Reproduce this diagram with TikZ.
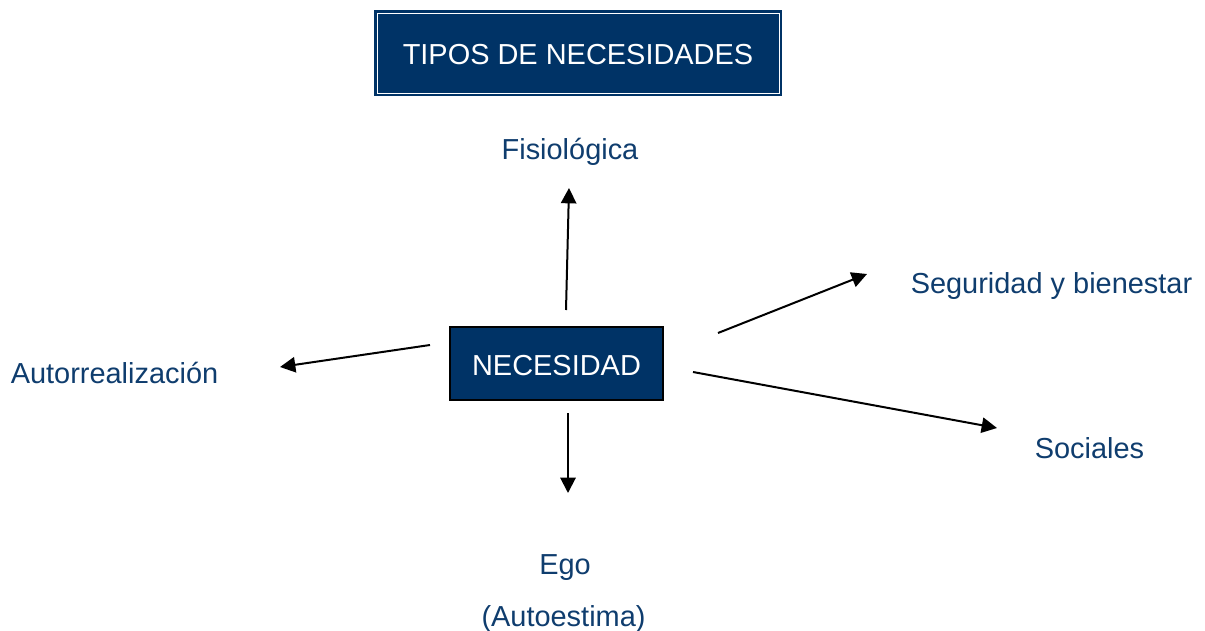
\documentclass[tikz,border=0pt]{standalone}
\usepackage{fontspec}
\setmainfont{Liberation Sans}
\usepackage{tikz}
\usetikzlibrary{arrows.meta, positioning, calc}
\definecolor{navy}{RGB}{0, 51, 102}
\definecolor{labelblue}{RGB}{15, 61, 110}
\tikzset{
  label text/.style={text=labelblue, font=\fontsize{21.7}{26}\selectfont, inner sep=0pt, yshift=-1.5pt},
  box text/.style={text=white, font=\fontsize{21.7}{26}\selectfont, text height=18pt, text depth=0pt},
  need arrow/.style={-{Triangle[length=11.5pt, width=11.5pt]}, line width=1.5pt, black}
}

\begin{document}
\begin{tikzpicture}[x=0.75pt, y=-0.75pt]
  \useasboundingbox (0, 0) rectangle (1205, 631);

  % Title
  \node[box text, fill=navy, draw=navy, double=white, double distance=0.7pt, line width=1.9pt,
        minimum width=301.5pt, minimum height=60pt, inner sep=0pt] (title) at (578, 53) {TIPOS DE NECESIDADES};

  % Centre
  \node[box text, fill=navy, draw=black, line width=0.8pt,
        minimum width=159.75pt, minimum height=54.75pt, inner sep=0pt] (need) at (556.5, 363.5) {NECESIDAD};

  % Kinds of need
  \node[label text] (fisio) at (570, 150) {Fisiológica};
  \node[label text] (segur) at (1051.5, 284) {Seguridad y bienestar};
  \node[label text] (autor) at (114.5, 371) {Autorrealización};
  \node[label text] (soc) at (1089.5, 446) {Sociales};
  \node[label text] (ego) at (565, 566) {Ego};
  \node[label text] (estima) at (563.5, 617) {(Autoestima)};

  % Arrow ends
  \coordinate (fisio-from) at (566, 310);
  \coordinate (fisio-to) at (569, 188);
  \coordinate (segur-from) at (718, 333);
  \coordinate (segur-to) at (867, 274);
  \coordinate (autor-from) at (430, 345);
  \coordinate (autor-to) at (280, 367);
  \coordinate (soc-from) at (693, 372);
  \coordinate (soc-to) at (997, 428);
  \coordinate (ego-from) at (568, 413);
  \coordinate (ego-to) at (568, 493);

  % Arrows
  \draw[need arrow] (fisio-from) -- (fisio-to);
  \draw[need arrow] (segur-from) -- (segur-to);
  \draw[need arrow] (autor-from) -- (autor-to);
  \draw[need arrow] (soc-from) -- (soc-to);
  \draw[need arrow] (ego-from) -- (ego-to);
\end{tikzpicture}
\end{document}
